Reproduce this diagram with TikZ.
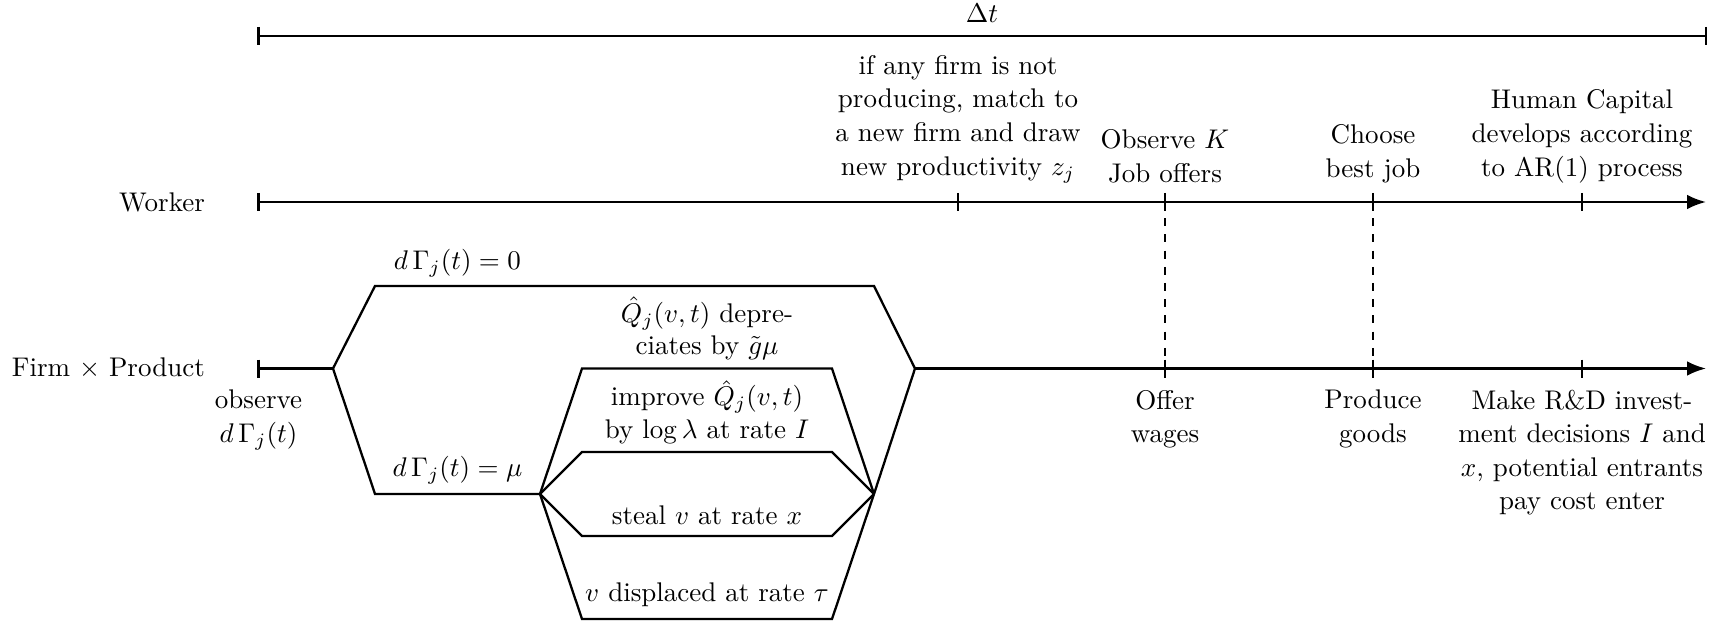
\documentclass[tikz,border=0pt]{standalone}
\usetikzlibrary{arrows.meta}
\begin{document}
\begin{tikzpicture}[x=0.37037pt,y=-0.37037pt,line width=0.85pt,
  lbl/.style={align=center,inner sep=3.33pt},
  toplbl/.style={lbl,anchor=south,font=\linespread{1.045}\selectfont},
  botlbl/.style={lbl,anchor=north,font=\linespread{1.03}\selectfont},
  sidelbl/.style={anchor=east,inner sep=0pt},
  axisarrow/.style={-{Latex[length=7pt,width=5.4pt]}},
  guide/.style={dashed}]
\useasboundingbox (0,0) rectangle (1725,624);
% Delta t bar
\coordinate (dL) at (258.5,36);
\coordinate (dR) at (1706,36);
\draw (dL) -- (dR);
\draw (dL) ++(0,-9) -- ++(0,18);
\draw (dR) ++(0,-9) -- ++(0,18);
\node[lbl,anchor=south] (dt) at (982,33) {$\Delta t$};
% Worker line
\coordinate (w0) at (258.5,202);
\coordinate (w1) at (958,202);
\coordinate (w2) at (1165,202);
\coordinate (w3) at (1373,202);
\coordinate (w4) at (1582,202);
\coordinate (wE) at (1706,202);
\node[sidelbl] (worker) at (206,202) {Worker};
\draw[axisarrow] (w0) -- (wE);
\foreach \c in {w0,w1,w2,w3,w4} \draw (\c) ++(0,-9) -- ++(0,18);
\node[toplbl] (tw1) at (958,193.5) {if any firm is not\\producing, match to\\a new firm and draw\\new productivity $z_j$};
\node[toplbl] (tw2) at (1165,193.5) {Observe $K$\\Job offers};
\node[toplbl] (tw3) at (1373,193.5) {Choose\\best job};
\node[toplbl] (tw4) at (1582,193.5) {Human Capital\\develops according\\to AR(1) process};
% Firm line
\coordinate (f0) at (258.5,368.5);
\coordinate (fb) at (333,368.5);
\coordinate (ua) at (375,286);
\coordinate (ub) at (874,286);
\coordinate (fj) at (915,368.5);
\coordinate (la) at (375,494);
\coordinate (fm) at (540,494);
\coordinate (fn) at (874,494);
\coordinate (b1a) at (582,368.5);
\coordinate (b1b) at (832,368.5);
\coordinate (b2a) at (582,452);
\coordinate (b2b) at (832,452);
\coordinate (b3a) at (582,536);
\coordinate (b3b) at (832,536);
\coordinate (b4a) at (582,619);
\coordinate (b4b) at (832,619);
\coordinate (f2) at (1165,368.5);
\coordinate (f3) at (1373,368.5);
\coordinate (f4) at (1582,368.5);
\coordinate (fE) at (1706,368.5);
\node[sidelbl] (firm) at (206,368.5) {Firm $\times$ Product};
\draw (f0) ++(0,-9) -- ++(0,18);
\draw (f0) -- (fb);
\draw (fb) -- (ua) -- (ub) -- (fj);
\draw (fb) -- (la) -- (fm);
\draw (fm) -- (b1a) -- (b1b) -- (fn);
\draw (fm) -- (b2a) -- (b2b) -- (fn);
\draw (fm) -- (b3a) -- (b3b) -- (fn);
\draw (fm) -- (b4a) -- (b4b) -- (fn);
\draw (fn) -- (fj);
\draw[axisarrow] (fj) -- (fE);
\foreach \c in {f2,f3,f4} \draw (\c) ++(0,-9) -- ++(0,18);
\draw[guide] (w2) -- (f2);
\draw[guide] (w3) -- (f3);
% branch labels
\node[lbl,anchor=south] (g0) at (457.5,287) {$d\,\Gamma_j(t) = 0$};
\node[lbl,anchor=south] (gmu) at (457.5,494) {$d\,\Gamma_j(t) = \mu$};
\node[lbl,anchor=south] (dep) at (707,370.5) {$\hat{Q}_j(v,t)$ depre-\\ciates by $\tilde{g}\mu$};
\node[lbl,anchor=south] (imp) at (707,454) {improve $\hat{Q}_j(v,t)$\\by $\log\lambda$ at rate $I$};
\node[lbl,anchor=south] (steal) at (707,535) {steal $v$ at rate $x$};
\node[lbl,anchor=south] (disp) at (707,617) {$v$ displaced at rate $\tau$};
% below firm line
\node[botlbl] (obs) at (258.5,380) {observe\\$d\,\Gamma_j(t)$};
\node[botlbl] (offer) at (1165,380) {Offer\\wages};
\node[botlbl] (prod) at (1373,380) {Produce\\goods};
\node[botlbl] (rd) at (1582,380) {Make R\&D invest-\\ment decisions $I$ and\\$x$, potential entrants\\pay cost enter};
\end{tikzpicture}
\end{document}
